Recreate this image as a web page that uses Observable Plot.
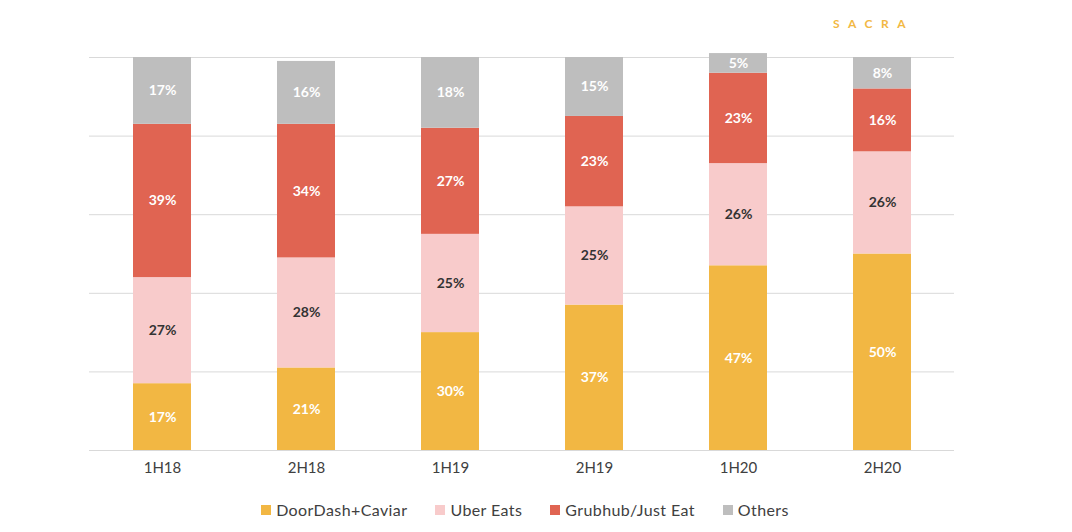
<!DOCTYPE html>
<html>
<head>
<meta charset="utf-8">
<script src="https://cdn.jsdelivr.net/npm/d3@7"></script>
<script src="https://cdn.jsdelivr.net/npm/@observablehq/plot@0.6"></script>
<style>
  html, body { margin: 0; padding: 0; background: #fff; }
  body { width: 1072px; height: 532px; position: relative; overflow: hidden; font-family: Lato, "Open Sans", sans-serif; }
  #logo { position: absolute; left: 833px; top: 16px; font: 700 12px Lato, sans-serif; letter-spacing: 8.5px; color: #F2B843; }
  #legend { position: absolute; left: -11px; top: 500px; width: 1072px; display: flex; justify-content: center; gap: 28px; font-size: 16px; letter-spacing: 0.4px; color: #404040; }
  #legend .item { display: flex; align-items: center; gap: 5px; }
  #legend .sw { width: 10px; height: 10px; display: inline-block; }
</style>
</head>
<body>
<div id="logo">SACRA</div>
<div id="chart"></div>
<div id="legend"></div>
<script>
const periods = ["1H18", "2H18", "1H19", "2H19", "1H20", "2H20"];
const seriesNames = ["DoorDash+Caviar", "Uber Eats", "Grubhub/Just Eat", "Others"];
const doordash = [17, 21, 30, 37, 47, 50];
const uberEats = [27, 28, 25, 25, 26, 26];
const grubhub = [39, 34, 27, 23, 23, 16];
const others = [17, 16, 18, 15, 5, 8];
const colors = ["#F2B743", "#F8CBCB", "#E06452", "#BEBEBE"];
const gridTicks = [0, 20, 40, 60, 80, 100];

const seriesValues = [doordash, uberEats, grubhub, others];
const data = [];
periods.forEach((p, i) => {
  seriesNames.forEach((s, j) => {
    data.push({period: p, series: s, value: seriesValues[j][i]});
  });
});

const stackOpts = {x: "period", y: "value", z: "series", order: seriesNames};

const chart = Plot.plot({
  width: 1072,
  height: 490,
  marginTop: 57,
  marginBottom: 40,
  marginLeft: 89,
  marginRight: 118,
  style: {fontFamily: "Lato, 'Open Sans', sans-serif", background: "#fff"},
  x: {domain: periods, paddingInner: 0.6, paddingOuter: 0.3, label: null},
  y: {domain: [0, 100], axis: null},
  color: {domain: seriesNames, range: colors},
  marks: [
    Plot.ruleY(gridTicks, {stroke: "#d9d9d9", strokeWidth: 1}),
    Plot.barY(data, Plot.stackY({...stackOpts, fill: "series"})),
    Plot.text(data, Plot.stackY({...stackOpts,
      text: d => d.series !== "Uber Eats" ? d.value + "%" : "",
      fill: "white", fontSize: 14, fontWeight: "bold"})),
    Plot.text(data, Plot.stackY({...stackOpts,
      text: d => d.series === "Uber Eats" ? d.value + "%" : "",
      fill: "#333", fontSize: 14, fontWeight: "bold"})),
    Plot.axisX({tickSize: 0, tickPadding: 12, fontSize: 15, color: "#404040", label: null})
  ]
});
document.getElementById("chart").appendChild(chart);

const legend = document.getElementById("legend");
seriesNames.forEach((s, j) => {
  const item = document.createElement("div");
  item.className = "item";
  const sw = document.createElement("span");
  sw.className = "sw";
  sw.style.background = colors[j];
  const t = document.createElement("span");
  t.textContent = s;
  item.appendChild(sw);
  item.appendChild(t);
  legend.appendChild(item);
});
</script>
</body>
</html>
